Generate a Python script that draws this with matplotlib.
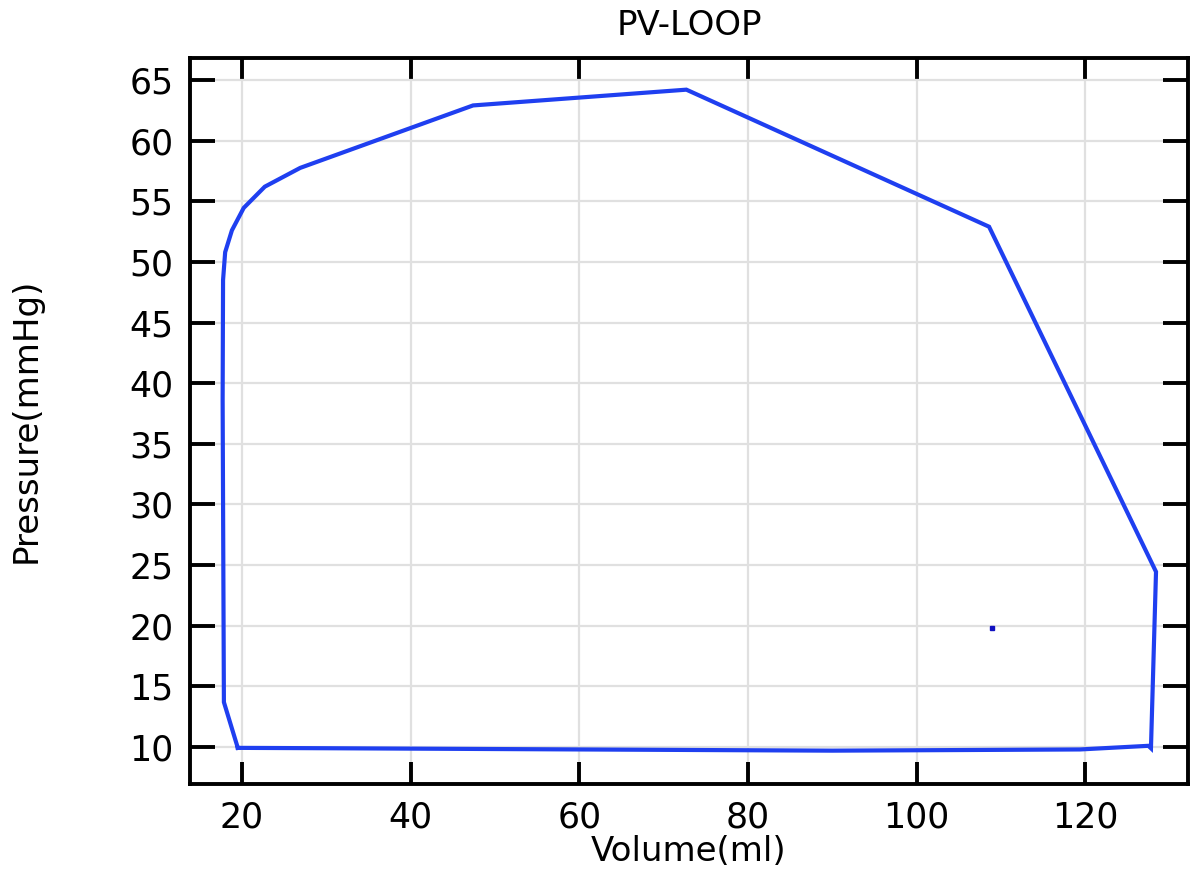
import matplotlib.pyplot as plt
import numpy as np

# PV loop
volume = [19.5, 30.0, 45.0, 60.0, 75.0, 90.0, 105.0, 119.4, 127.5, 127.8,
          128.4, 108.6, 72.7, 47.4, 26.9, 22.7, 20.2, 18.8, 18.0, 17.75,
          17.7, 17.85, 19.5]
pressure = [9.93, 9.9, 9.85, 9.8, 9.75, 9.7, 9.75, 9.8, 10.1, 9.9,
            24.45, 52.9, 64.2, 62.9, 57.75, 56.2, 54.45, 52.6, 50.8, 48.5,
            38.6, 13.7, 9.93]
dot_v = [109.0]
dot_p = [19.85]

xticks = [20, 40, 60, 80, 100, 120]
yticks = [10, 15, 20, 25, 30, 35, 40, 45, 50, 55, 60, 65]

fig = plt.figure(figsize=(11.98, 8.69), dpi=100)
ax = fig.add_axes([0.1586, 0.0978, 0.9917 - 0.1586, 0.9338 - 0.0978])

ax.plot(volume, pressure, color='#1f3ff0', linewidth=3.0, solid_joinstyle='miter')
ax.plot(dot_v, dot_p, 's', color='#1010c0', markersize=3)

ax.set_xlim(13.83, 132.2)
ax.set_ylim(6.95, 66.85)
ax.set_xticks(xticks)
ax.set_yticks(yticks)
ax.grid(True, color='#e0e0e0', linewidth=1.6)
ax.set_axisbelow(True)

ax.xaxis.set_tick_params(which='major', direction='in', length=16, width=2.8,
                         labelsize=25, top=True, bottom=True, pad=12)
ax.yaxis.set_tick_params(which='major', direction='in', length=18, width=2.8,
                         labelsize=25, left=True, right=True, pad=12)
for s in ax.spines.values():
    s.set_linewidth(2.8)
    s.set_zorder(3)

ax.set_title('PV-LOOP', fontsize=24.5, pad=16)
ax.set_xlabel('Volume(ml)', fontsize=24.5, labelpad=0)
ax.set_ylabel('Pressure(mmHg)', fontsize=24.5, labelpad=62)

fig.savefig('out.png', dpi=100)
